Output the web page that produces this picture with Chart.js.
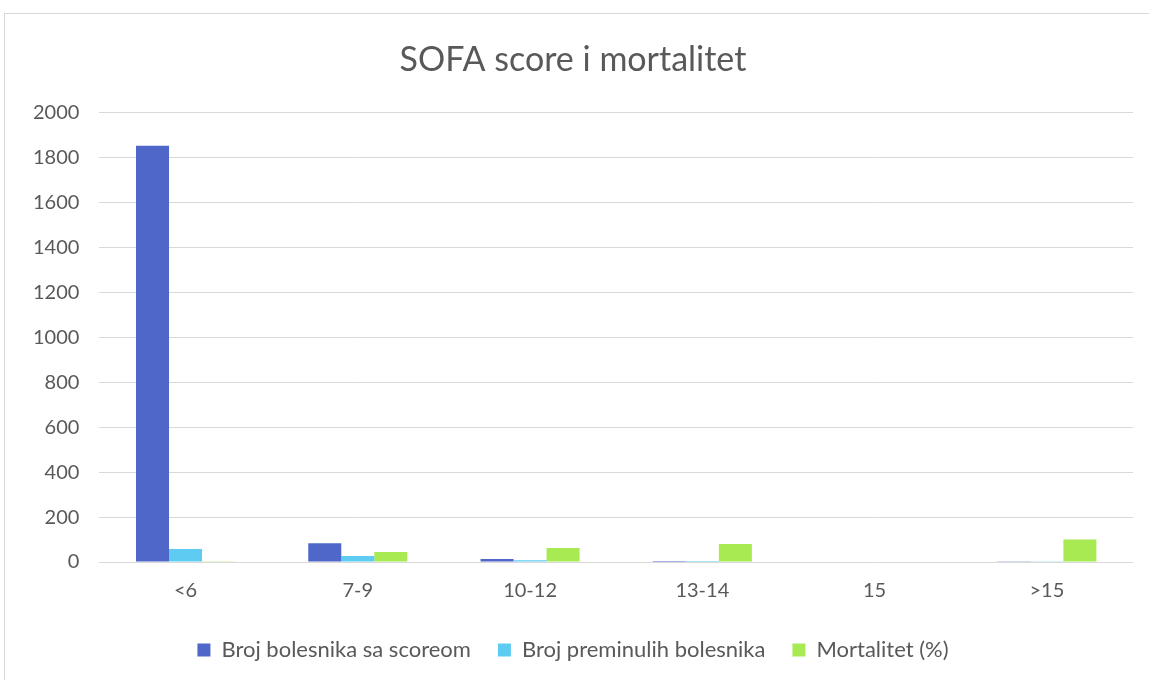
<!DOCTYPE html>
<html>
<head>
<meta charset="utf-8">
<script src="https://cdn.jsdelivr.net/npm/chart.js@4"></script>
<style>
  body { margin: 0; background: #fff; }
  #wrap {
    position: absolute; left: 4px; top: 13px;
    width: 1144px; height: 666px;
    border: 1px solid #d9d9d9; border-right: none; border-bottom: none;
    background: #fff;
  }
</style>
</head>
<body>
<div id="wrap"><canvas id="barChart"></canvas></div>
<script>
const categories = ["<6", "7-9", "10-12", "13-14", "15", ">15"];
const brojBolesnika = [1853, 83, 13, 5, 0, 1];
const brojPreminulih = [58, 27, 8, 4, 0, 1];
const mortalitet = [3, 44, 62, 80, 0, 100];

const textColor = "#595959";
Chart.defaults.font.family = "Lato, 'Open Sans', sans-serif";
Chart.defaults.color = textColor;

const bar = document.getElementById("barChart");
const barChart = new Chart(bar, {
    type: "bar",
    data: {
        labels: categories,
        datasets: [
            { label: "Broj bolesnika sa scoreom", data: brojBolesnika, backgroundColor: "#4e67c8" },
            { label: "Broj preminulih bolesnika", data: brojPreminulih, backgroundColor: "#5ecbf3" },
            { label: "Mortalitet (%)", data: mortalitet, backgroundColor: "#a7ea52" }
        ]
    },
    options: {
        responsive: true,
        maintainAspectRatio: false,
        animation: false,
        layout: { padding: { left: 8, right: 16, top: 0, bottom: 9 } },
        datasets: { bar: { barPercentage: 1, categoryPercentage: 0.575 } },
        scales: {
            x: {
                grid: { display: false },
                border: { display: false },
                ticks: { font: { size: 20 }, color: textColor, padding: 9 }
            },
            y: {
                min: 0, max: 2000,
                ticks: {
                    stepSize: 200, font: { size: 20 }, color: textColor, padding: 20,
                    callback: (v) => String(v)
                },
                grid: { color: "#d9d9d9", lineWidth: 1, drawTicks: false },
                border: { display: false }
            }
        },
        plugins: {
            legend: {
                position: "bottom",
                labels: { boxWidth: 13, boxHeight: 13, padding: 27, font: { size: 22 }, color: textColor }
            },
            title: {
                display: true,
                text: "SOFA score i mortalitet",
                color: textColor,
                font: { size: 34, weight: "normal" },
                padding: { top: 26, bottom: 32 }
            },
            tooltip: { enabled: false }
        }
    }
});
</script>
</body>
</html>
